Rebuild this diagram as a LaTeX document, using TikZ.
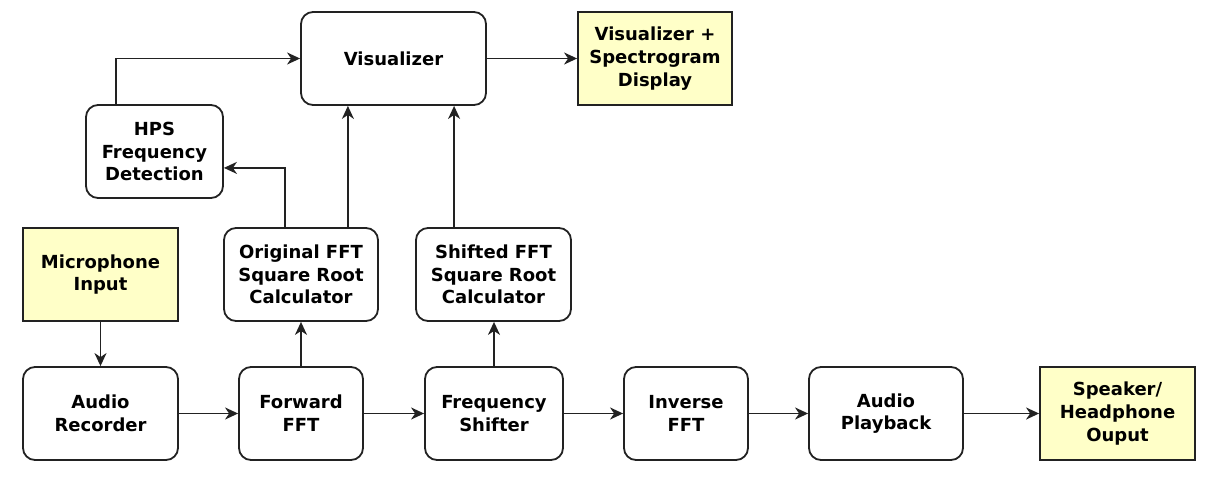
\documentclass[tikz,border=0pt]{standalone}
\usepackage{fontspec}
\setmainfont{DejaVu Sans}
\usetikzlibrary{arrows.meta,calc}
\definecolor{boxline}{HTML}{222222}
\definecolor{ioyellow}{HTML}{FFFFC8}
\begin{document}
\begin{tikzpicture}[x=1pt,y=-1pt,
  blk/.style={draw=boxline, line width=1.8pt, rounded corners=12pt, fill=white,
    inner sep=0pt, minimum height=93pt, align=center,
    font=\fontsize{18}{22.7}\selectfont\bfseries, text=black},
  io/.style={blk, rounded corners=0pt, fill=ioyellow},
  arr/.style={draw=boxline, line width=1.6pt, -{Stealth[length=13pt,width=12pt,inset=4pt]}}]
\useasboundingbox (0,0) rectangle (1219,477);
% top
\node[blk, minimum width=185pt] (vis) at (393.5,58.5) {Visualizer};
\node[io, minimum width=154pt] (disp) at (655,58.5) {Visualizer +\\Spectrogram\\Display};
\node[blk, minimum width=137pt] (hps) at (154.5,151.5) {HPS\\Frequency\\Detection};
% middle
\node[io, minimum width=155pt] (mic) at (100.5,274.5) {Microphone\\Input};
\node[blk, minimum width=154pt] (orig) at (301,274.5) {Original FFT\\Square Root\\Calculator};
\node[blk, minimum width=155pt] (shift) at (493.5,274.5) {Shifted FFT\\Square Root\\Calculator};
% bottom
\node[blk, minimum width=155pt] (rec) at (100.5,413.5) {Audio\\Recorder};
\node[blk, minimum width=124pt] (fwd) at (301,413.5) {Forward\\FFT};
\node[blk, minimum width=138pt] (fs) at (494,413.5) {Frequency\\Shifter};
\node[blk, minimum width=124pt] (inv) at (686,413.5) {Inverse\\FFT};
\node[blk, minimum width=154pt] (play) at (886,413.5) {Audio\\Playback};
\node[io, minimum width=155pt] (spk) at (1117.5,413.5) {Speaker/\\Headphone\\Ouput};
% helper coordinates
\coordinate (h1) at ($(hps.north west)+(31,0)$);
\coordinate (o1) at ($(orig.north west)+(62,0)$);
\coordinate (o2) at ($(orig.north east)+(-31,0)$);
\coordinate (s1) at ($(shift.north west)+(39,0)$);
\coordinate (hin) at ($(hps.south east)+(0,-31)$);
% connectors
\draw[arr] (mic) -- (rec);
\draw[arr] (rec) -- (fwd);
\draw[arr] (fwd) -- (fs);
\draw[arr] (fs) -- (inv);
\draw[arr] (inv) -- (play);
\draw[arr] (play) -- (spk);
\draw[arr] (fwd) -- (orig);
\draw[arr] (fs.north) -- (fs.north |- shift.south);
\draw[arr] (o1) |- (hin);
\draw[arr] (o2) -- (o2 |- vis.south);
\draw[arr] (s1) -- (s1 |- vis.south);
\draw[arr] (h1) |- (vis.west);
\draw[arr] (vis) -- (disp);
\end{tikzpicture}
\end{document}
